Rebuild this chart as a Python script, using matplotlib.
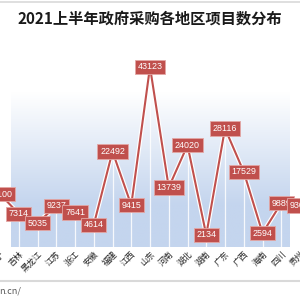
import matplotlib
matplotlib.use("Agg")
import matplotlib.pyplot as plt
import matplotlib.patheffects as pe
import numpy as np
from matplotlib.lines import Line2D

plt.rcParams['font.family'] = ['Noto Sans CJK SC', 'DejaVu Sans']

title = "2021上半年政府采购各地区项目数分布"
regions = ["辽宁", "吉林", "黑龙江", "江苏", "浙江", "安徽", "福建", "江西", "山东",
           "河南", "湖北", "湖南", "广东", "广西", "海南", "四川", "贵州"]
counts = [12100, 7314, 5035, 9237, 7641, 4614, 22492, 9415, 43123,
          13739, 24020, 2134, 28116, 17529, 2594, 9889, 9300]
source_text = "n.cn/"

W = H = 300
fig = plt.figure(figsize=(3, 3), dpi=100)
fig.patch.set_facecolor('white')

# plot area: x pixel = -12 + 20.2*i ; y pixel(top) = 243.7 - 0.0041*v
x0, dx = -12.0, 20.2
ax_top_px, ax_bot_px = 60, 247
ax = fig.add_axes([0, 1 - ax_bot_px / H, 1, (ax_bot_px - ax_top_px) / H])
xlim = ((0 - x0) / dx, (W - x0) / dx)
k, y0 = 0.0041, 243.7
ylim = ((y0 - ax_bot_px) / k, (y0 - ax_top_px) / k)

# gradient background
n = 256
rows = np.linspace(0, 1, n)  # 0 top -> 1 bottom
pix = ax_top_px + rows * (ax_bot_px - ax_top_px)
t = np.clip((pix - 92) / (205 - 92), 0, 1)
top_c = np.array([1.0, 1.0, 1.0])
bot_c = np.array([196, 213, 238]) / 255
img = (top_c[None, :] * (1 - t[:, None]) + bot_c[None, :] * t[:, None])
img = np.repeat(img[:, None, :], 2, axis=1)
ax.imshow(img, extent=[xlim[0], xlim[1], ylim[0], ylim[1]],
          aspect='auto', zorder=0, interpolation='bilinear')
ax.set_xlim(*xlim)
ax.set_ylim(*ylim)

xs = np.arange(len(regions))
# drop lines
ax.vlines(xs, ylim[0], counts, colors='white', lw=0.9, alpha=0.85, zorder=1)

ax.plot(xs, counts, color='#C0504D', lw=1.5, zorder=3,
        path_effects=[pe.Stroke(linewidth=3.2, foreground='white'), pe.Normal()])

for x, v in zip(xs, counts):
    ax.annotate(f"{v}", (x, v), ha='center', va='center', fontsize=6.4, color='white',
                family=['Liberation Sans Narrow', 'Liberation Sans'],
                bbox=dict(boxstyle='square,pad=0.3', fc='#C0504D', ec='#E3A7A5', lw=0.6),
                zorder=5, annotation_clip=False)

ax.set_xticks(xs)
ax.set_xticklabels(regions, rotation=45, ha='right', va='top', rotation_mode='anchor',
                   fontsize=6.0, color='#262626')
ax.tick_params(axis='x', length=0, pad=1.5)
ax.set_yticks([])
for s in ax.spines.values():
    s.set_visible(False)

fig.text(0.5, 1 - 19 / H, title, ha='center', va='center', fontsize=11, fontweight='bold',
         color='#1a1a1a')

fig.add_artist(Line2D([0, 1], [1 - 2 / H, 1 - 2 / H], color='#D9D9D9', lw=1.2))
fig.add_artist(Line2D([0, 1], [1 - 281 / H, 1 - 281 / H], color='#D9D9D9', lw=1.5))
fig.text(-1 / W, 1 - 291 / H, source_text, ha='left', va='center', fontsize=6.5, color='#595959')

fig.savefig('out.png', dpi=100, facecolor='white')
